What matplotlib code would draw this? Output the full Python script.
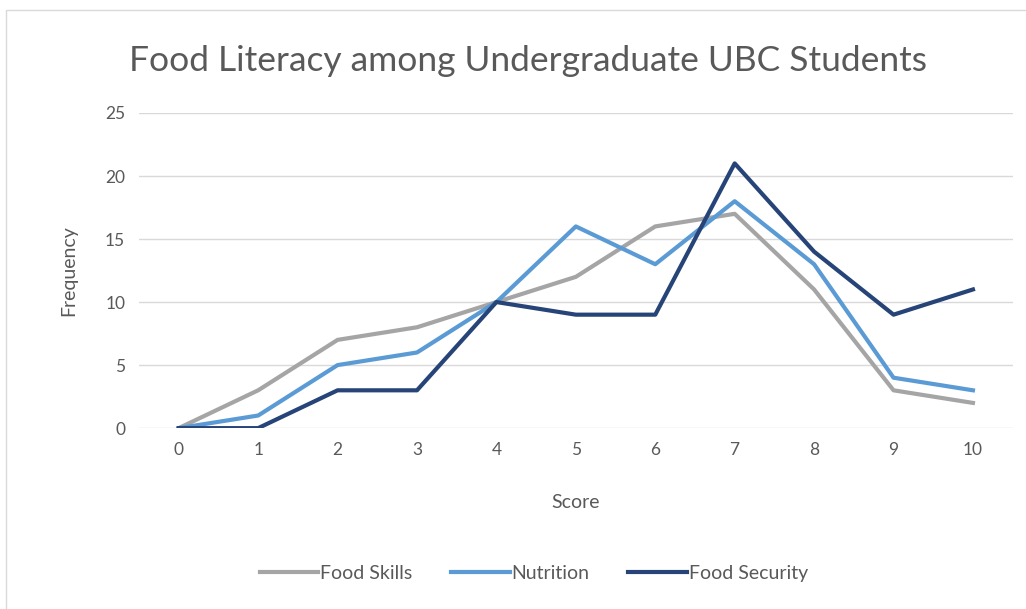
import numpy as np
import matplotlib.pyplot as plt

plt.rcParams['font.family'] = ['Lato', 'DejaVu Sans']

scores = list(range(11))
food_skills = [0, 3, 7, 8, 10, 12, 16, 17, 11, 3, 2]
nutrition = [0, 1, 5, 6, 10, 16, 13, 18, 13, 4, 3]
food_security = [0, 0, 3, 3, 10, 9, 9, 21, 14, 9, 11]

fig = plt.figure(figsize=(10.26, 6.09), dpi=100)
ax = fig.add_axes([0.1355, 0.297, 0.8515, 0.5175])

ax.plot(scores, food_skills, color='#A5A5A5', lw=3, label='Food Skills')
ax.plot(scores, nutrition, color='#5B9BD5', lw=3, label='Nutrition')
ax.plot(scores, food_security, color='#264478', lw=3, label='Food Security')

ax.set_xlim(-0.5, 10.5)
ax.set_ylim(0, 25)
ax.set_xticks(scores)
ax.set_yticks(range(0, 26, 5))
ax.grid(axis='y', color='#D9D9D9', lw=1)
ax.set_axisbelow(True)
for s in ['top', 'right', 'left', 'bottom']:
    ax.spines[s].set_visible(False)
ax.tick_params(length=0, labelsize=12.5, labelcolor='#595959', pad=10)

ax.set_xlabel('Score', fontsize=14, color='#595959', labelpad=26)
ax.set_ylabel('Frequency', fontsize=14, color='#595959', labelpad=20)
fig.text(0.515, 0.9, 'Food Literacy among Undergraduate UBC Students',
         ha='center', va='center', fontsize=25.5, color='#595959')

ax.legend(loc='center', bbox_to_anchor=(0.452, -0.46), ncol=3, frameon=False,
          fontsize=14, labelcolor='#595959', handlelength=3.0,
          handletextpad=0.1, columnspacing=2.0)

# chart border
fig.patches.append(plt.Rectangle((0.006, -0.01), 1.1, 0.994, transform=fig.transFigure,
                                 fill=False, ec='#D9D9D9', lw=1))

fig.savefig('out.png', dpi=100)
